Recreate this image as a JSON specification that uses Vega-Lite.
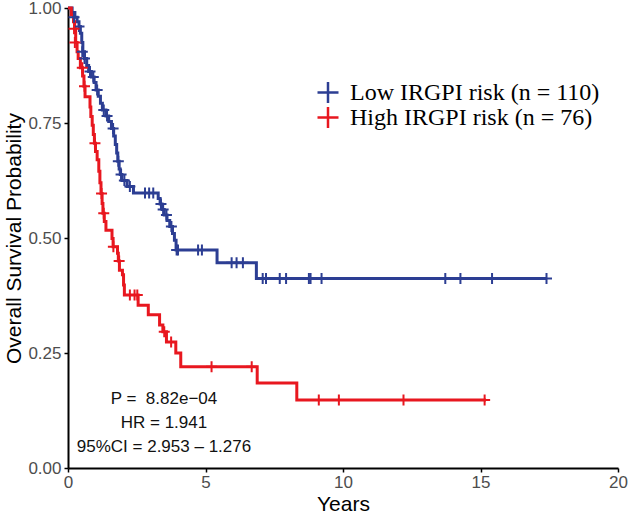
{
  "$schema": "https://vega.github.io/schema/vega-lite/v6.json",
  "width": 550,
  "height": 460,
  "autosize": {"type": "none"},
  "padding": {"left": 68, "top": 8, "right": 11, "bottom": 46},
  "background": "white",
  "config": {
    "view": {"stroke": null},
    "font": "Liberation Sans",
    "axis": {
      "grid": false,
      "domainColor": "#000000",
      "domainWidth": 2,
      "tickColor": "#000000",
      "tickWidth": 1.5,
      "tickSize": 4,
      "labelFlush": false,
      "labelOverlap": false,
      "labelColor": "#4d4d4d",
      "labelFont": "Liberation Sans",
      "labelFontSize": 17,
      "titleFont": "Liberation Sans",
      "titleFontSize": 21,
      "titleFontWeight": "normal",
      "titleColor": "#000000"
    }
  },
  "datasets": {
    "surv": [
      {"group": "Low IRGPI risk (n = 110)", "time": 0, "surv": 1.0},
      {"group": "Low IRGPI risk (n = 110)", "time": 0.15, "surv": 0.99},
      {"group": "Low IRGPI risk (n = 110)", "time": 0.25, "surv": 0.98},
      {"group": "Low IRGPI risk (n = 110)", "time": 0.33, "surv": 0.97},
      {"group": "Low IRGPI risk (n = 110)", "time": 0.4, "surv": 0.96},
      {"group": "Low IRGPI risk (n = 110)", "time": 0.45, "surv": 0.945},
      {"group": "Low IRGPI risk (n = 110)", "time": 0.5, "surv": 0.925},
      {"group": "Low IRGPI risk (n = 110)", "time": 0.54, "surv": 0.905},
      {"group": "Low IRGPI risk (n = 110)", "time": 0.6, "surv": 0.89},
      {"group": "Low IRGPI risk (n = 110)", "time": 0.68, "surv": 0.875},
      {"group": "Low IRGPI risk (n = 110)", "time": 0.75, "surv": 0.862},
      {"group": "Low IRGPI risk (n = 110)", "time": 0.85, "surv": 0.85},
      {"group": "Low IRGPI risk (n = 110)", "time": 0.95, "surv": 0.838},
      {"group": "Low IRGPI risk (n = 110)", "time": 1.02, "surv": 0.822},
      {"group": "Low IRGPI risk (n = 110)", "time": 1.1, "surv": 0.808},
      {"group": "Low IRGPI risk (n = 110)", "time": 1.18, "surv": 0.793},
      {"group": "Low IRGPI risk (n = 110)", "time": 1.25, "surv": 0.778},
      {"group": "Low IRGPI risk (n = 110)", "time": 1.38, "surv": 0.765},
      {"group": "Low IRGPI risk (n = 110)", "time": 1.48, "surv": 0.753},
      {"group": "Low IRGPI risk (n = 110)", "time": 1.58, "surv": 0.738},
      {"group": "Low IRGPI risk (n = 110)", "time": 1.66, "surv": 0.722},
      {"group": "Low IRGPI risk (n = 110)", "time": 1.72, "surv": 0.703},
      {"group": "Low IRGPI risk (n = 110)", "time": 1.77, "surv": 0.685},
      {"group": "Low IRGPI risk (n = 110)", "time": 1.81, "surv": 0.667},
      {"group": "Low IRGPI risk (n = 110)", "time": 1.86, "surv": 0.65},
      {"group": "Low IRGPI risk (n = 110)", "time": 1.9, "surv": 0.638},
      {"group": "Low IRGPI risk (n = 110)", "time": 1.96, "surv": 0.625},
      {"group": "Low IRGPI risk (n = 110)", "time": 2.15, "surv": 0.612},
      {"group": "Low IRGPI risk (n = 110)", "time": 2.38, "surv": 0.598},
      {"group": "Low IRGPI risk (n = 110)", "time": 3.28, "surv": 0.586},
      {"group": "Low IRGPI risk (n = 110)", "time": 3.35, "surv": 0.574},
      {"group": "Low IRGPI risk (n = 110)", "time": 3.42, "surv": 0.562},
      {"group": "Low IRGPI risk (n = 110)", "time": 3.5, "surv": 0.55},
      {"group": "Low IRGPI risk (n = 110)", "time": 3.6, "surv": 0.538},
      {"group": "Low IRGPI risk (n = 110)", "time": 3.7, "surv": 0.525},
      {"group": "Low IRGPI risk (n = 110)", "time": 3.8, "surv": 0.51},
      {"group": "Low IRGPI risk (n = 110)", "time": 3.87, "surv": 0.495},
      {"group": "Low IRGPI risk (n = 110)", "time": 3.93, "surv": 0.474},
      {"group": "Low IRGPI risk (n = 110)", "time": 5.42, "surv": 0.446},
      {"group": "Low IRGPI risk (n = 110)", "time": 6.85, "surv": 0.412},
      {"group": "Low IRGPI risk (n = 110)", "time": 17.42, "surv": 0.412},
      {"group": "High IRGPI risk (n = 76)", "time": 0, "surv": 1.0},
      {"group": "High IRGPI risk (n = 76)", "time": 0.12, "surv": 0.985},
      {"group": "High IRGPI risk (n = 76)", "time": 0.2, "surv": 0.97},
      {"group": "High IRGPI risk (n = 76)", "time": 0.24, "surv": 0.955},
      {"group": "High IRGPI risk (n = 76)", "time": 0.28, "surv": 0.925},
      {"group": "High IRGPI risk (n = 76)", "time": 0.33, "surv": 0.905},
      {"group": "High IRGPI risk (n = 76)", "time": 0.37, "surv": 0.89},
      {"group": "High IRGPI risk (n = 76)", "time": 0.45, "surv": 0.87},
      {"group": "High IRGPI risk (n = 76)", "time": 0.53, "surv": 0.852},
      {"group": "High IRGPI risk (n = 76)", "time": 0.58, "surv": 0.83},
      {"group": "High IRGPI risk (n = 76)", "time": 0.62, "surv": 0.807},
      {"group": "High IRGPI risk (n = 76)", "time": 0.8, "surv": 0.785},
      {"group": "High IRGPI risk (n = 76)", "time": 0.83, "surv": 0.764},
      {"group": "High IRGPI risk (n = 76)", "time": 0.88, "surv": 0.745},
      {"group": "High IRGPI risk (n = 76)", "time": 0.92, "surv": 0.725},
      {"group": "High IRGPI risk (n = 76)", "time": 0.96, "surv": 0.706},
      {"group": "High IRGPI risk (n = 76)", "time": 1.0, "surv": 0.688},
      {"group": "High IRGPI risk (n = 76)", "time": 1.06, "surv": 0.67},
      {"group": "High IRGPI risk (n = 76)", "time": 1.12, "surv": 0.645},
      {"group": "High IRGPI risk (n = 76)", "time": 1.16, "surv": 0.62},
      {"group": "High IRGPI risk (n = 76)", "time": 1.2, "surv": 0.597},
      {"group": "High IRGPI risk (n = 76)", "time": 1.24, "surv": 0.575},
      {"group": "High IRGPI risk (n = 76)", "time": 1.27, "surv": 0.554},
      {"group": "High IRGPI risk (n = 76)", "time": 1.32, "surv": 0.536},
      {"group": "High IRGPI risk (n = 76)", "time": 1.38, "surv": 0.517},
      {"group": "High IRGPI risk (n = 76)", "time": 1.6, "surv": 0.499},
      {"group": "High IRGPI risk (n = 76)", "time": 1.64, "surv": 0.481},
      {"group": "High IRGPI risk (n = 76)", "time": 1.8, "surv": 0.467},
      {"group": "High IRGPI risk (n = 76)", "time": 1.83, "surv": 0.45},
      {"group": "High IRGPI risk (n = 76)", "time": 1.87, "surv": 0.43},
      {"group": "High IRGPI risk (n = 76)", "time": 1.98, "surv": 0.42},
      {"group": "High IRGPI risk (n = 76)", "time": 2.02, "surv": 0.398},
      {"group": "High IRGPI risk (n = 76)", "time": 2.05, "surv": 0.376},
      {"group": "High IRGPI risk (n = 76)", "time": 2.55, "surv": 0.354},
      {"group": "High IRGPI risk (n = 76)", "time": 2.92, "surv": 0.333},
      {"group": "High IRGPI risk (n = 76)", "time": 3.33, "surv": 0.311},
      {"group": "High IRGPI risk (n = 76)", "time": 3.45, "surv": 0.296},
      {"group": "High IRGPI risk (n = 76)", "time": 3.58, "surv": 0.274},
      {"group": "High IRGPI risk (n = 76)", "time": 3.92, "surv": 0.25},
      {"group": "High IRGPI risk (n = 76)", "time": 4.1, "surv": 0.22},
      {"group": "High IRGPI risk (n = 76)", "time": 6.88, "surv": 0.185},
      {"group": "High IRGPI risk (n = 76)", "time": 8.32, "surv": 0.148},
      {"group": "High IRGPI risk (n = 76)", "time": 15.2, "surv": 0.148}
    ],
    "censor": [
      {"group": "Low IRGPI risk (n = 110)", "time": 0.22, "surv": 0.98},
      {"group": "Low IRGPI risk (n = 110)", "time": 0.4, "surv": 0.96},
      {"group": "Low IRGPI risk (n = 110)", "time": 0.52, "surv": 0.905},
      {"group": "Low IRGPI risk (n = 110)", "time": 0.6, "surv": 0.89},
      {"group": "Low IRGPI risk (n = 110)", "time": 0.8, "surv": 0.862},
      {"group": "Low IRGPI risk (n = 110)", "time": 0.92, "surv": 0.85},
      {"group": "Low IRGPI risk (n = 110)", "time": 1.06, "surv": 0.822},
      {"group": "Low IRGPI risk (n = 110)", "time": 1.3, "surv": 0.778},
      {"group": "Low IRGPI risk (n = 110)", "time": 1.42, "surv": 0.765},
      {"group": "Low IRGPI risk (n = 110)", "time": 1.64, "surv": 0.738},
      {"group": "Low IRGPI risk (n = 110)", "time": 1.83, "surv": 0.667},
      {"group": "Low IRGPI risk (n = 110)", "time": 1.93, "surv": 0.638},
      {"group": "Low IRGPI risk (n = 110)", "time": 2.05, "surv": 0.625},
      {"group": "Low IRGPI risk (n = 110)", "time": 2.25, "surv": 0.612},
      {"group": "Low IRGPI risk (n = 110)", "time": 2.8, "surv": 0.598},
      {"group": "Low IRGPI risk (n = 110)", "time": 2.95, "surv": 0.598},
      {"group": "Low IRGPI risk (n = 110)", "time": 3.1, "surv": 0.598},
      {"group": "Low IRGPI risk (n = 110)", "time": 3.38, "surv": 0.574},
      {"group": "Low IRGPI risk (n = 110)", "time": 3.46, "surv": 0.562},
      {"group": "Low IRGPI risk (n = 110)", "time": 3.58, "surv": 0.55},
      {"group": "Low IRGPI risk (n = 110)", "time": 3.76, "surv": 0.525},
      {"group": "Low IRGPI risk (n = 110)", "time": 3.95, "surv": 0.474},
      {"group": "Low IRGPI risk (n = 110)", "time": 4.0, "surv": 0.474},
      {"group": "Low IRGPI risk (n = 110)", "time": 4.73, "surv": 0.474},
      {"group": "Low IRGPI risk (n = 110)", "time": 4.87, "surv": 0.474},
      {"group": "Low IRGPI risk (n = 110)", "time": 5.95, "surv": 0.446},
      {"group": "Low IRGPI risk (n = 110)", "time": 6.13, "surv": 0.446},
      {"group": "Low IRGPI risk (n = 110)", "time": 6.36, "surv": 0.446},
      {"group": "Low IRGPI risk (n = 110)", "time": 7.08, "surv": 0.412},
      {"group": "Low IRGPI risk (n = 110)", "time": 7.2, "surv": 0.412},
      {"group": "Low IRGPI risk (n = 110)", "time": 7.7, "surv": 0.412},
      {"group": "Low IRGPI risk (n = 110)", "time": 7.93, "surv": 0.412},
      {"group": "Low IRGPI risk (n = 110)", "time": 8.76, "surv": 0.412},
      {"group": "Low IRGPI risk (n = 110)", "time": 8.82, "surv": 0.412},
      {"group": "Low IRGPI risk (n = 110)", "time": 9.22, "surv": 0.412},
      {"group": "Low IRGPI risk (n = 110)", "time": 13.72, "surv": 0.412},
      {"group": "Low IRGPI risk (n = 110)", "time": 14.27, "surv": 0.412},
      {"group": "Low IRGPI risk (n = 110)", "time": 15.42, "surv": 0.412},
      {"group": "Low IRGPI risk (n = 110)", "time": 17.4, "surv": 0.412},
      {"group": "High IRGPI risk (n = 76)", "time": 0.22, "surv": 0.955},
      {"group": "High IRGPI risk (n = 76)", "time": 0.25, "surv": 0.925},
      {"group": "High IRGPI risk (n = 76)", "time": 0.52, "surv": 0.87},
      {"group": "High IRGPI risk (n = 76)", "time": 0.6, "surv": 0.83},
      {"group": "High IRGPI risk (n = 76)", "time": 0.98, "surv": 0.706},
      {"group": "High IRGPI risk (n = 76)", "time": 1.22, "surv": 0.597},
      {"group": "High IRGPI risk (n = 76)", "time": 1.3, "surv": 0.554},
      {"group": "High IRGPI risk (n = 76)", "time": 1.65, "surv": 0.481},
      {"group": "High IRGPI risk (n = 76)", "time": 1.86, "surv": 0.45},
      {"group": "High IRGPI risk (n = 76)", "time": 2.25, "surv": 0.376},
      {"group": "High IRGPI risk (n = 76)", "time": 2.42, "surv": 0.376},
      {"group": "High IRGPI risk (n = 76)", "time": 2.52, "surv": 0.376},
      {"group": "High IRGPI risk (n = 76)", "time": 3.5, "surv": 0.296},
      {"group": "High IRGPI risk (n = 76)", "time": 3.75, "surv": 0.274},
      {"group": "High IRGPI risk (n = 76)", "time": 5.22, "surv": 0.22},
      {"group": "High IRGPI risk (n = 76)", "time": 6.68, "surv": 0.22},
      {"group": "High IRGPI risk (n = 76)", "time": 9.12, "surv": 0.148},
      {"group": "High IRGPI risk (n = 76)", "time": 9.85, "surv": 0.148},
      {"group": "High IRGPI risk (n = 76)", "time": 12.2, "surv": 0.148},
      {"group": "High IRGPI risk (n = 76)", "time": 15.15, "surv": 0.148}
    ],
    "stats": [{"label": "stats"}]
  },
  "layer": [
    {
      "data": {"name": "surv"},
      "mark": {"type": "line", "interpolate": "step-after", "strokeWidth": 3},
      "encoding": {
        "x": {"field": "time", "type": "quantitative", "scale": {"domain": [0, 20], "nice": false, "zero": true},
              "axis": {"values": [0, 5, 10, 15, 20], "title": "Years", "labelPadding": 2, "titlePadding": 3}},
        "y": {"field": "surv", "type": "quantitative", "scale": {"domain": [0, 1], "nice": false},
              "axis": {"values": [0, 0.25, 0.5, 0.75, 1], "format": ".2f", "title": "Overall Survival Probability", "labelPadding": 3, "titlePadding": 3}},
        "color": {
          "field": "group", "type": "nominal",
          "scale": {"domain": ["Low IRGPI risk (n = 110)", "High IRGPI risk (n = 76)"], "range": ["#2c3e93", "#e8171f"]},
          "legend": {
            "title": null,
            "orient": "none",
            "legendX": 248,
            "legendY": 72,
            "padding": 0,
            "symbolType": "M-1,0H1M0,-1V1",
            "symbolSize": 441,
            "symbolStrokeWidth": 2.5,
            "symbolOffset": 0,
            "labelFont": "Liberation Serif",
            "labelFontSize": 24,
            "labelColor": "#000000",
            "labelOffset": 10,
            "rowPadding": 0,
            "clipHeight": 25,
            "labelLimit": 400
          }
        },
        "detail": {"field": "group"}
      }
    },
    {
      "data": {"name": "censor"},
      "mark": {"type": "point", "shape": "M-1,0H1M0,-1V1", "filled": false, "size": 121, "strokeWidth": 2, "opacity": 1},
      "encoding": {
        "x": {"field": "time", "type": "quantitative"},
        "y": {"field": "surv", "type": "quantitative"},
        "color": {"field": "group", "type": "nominal", "legend": null}
      }
    },
    {
      "data": {"name": "stats"},
      "mark": {"type": "text", "font": "Liberation Sans", "fontSize": 17, "color": "#111111", "align": "center", "baseline": "middle"},
      "encoding": {
        "x": {"datum": 3.49, "type": "quantitative"},
        "y": {"datum": 0.15, "type": "quantitative"},
        "text": {"value": "P = \u00a08.82e\u221204"}
      }
    },
    {
      "data": {"name": "stats"},
      "mark": {"type": "text", "font": "Liberation Sans", "fontSize": 17, "color": "#111111", "align": "center", "baseline": "middle"},
      "encoding": {
        "x": {"datum": 3.49, "type": "quantitative"},
        "y": {"datum": 0.098, "type": "quantitative"},
        "text": {"value": "HR = 1.941"}
      }
    },
    {
      "data": {"name": "stats"},
      "mark": {"type": "text", "font": "Liberation Sans", "fontSize": 17, "color": "#111111", "align": "center", "baseline": "middle"},
      "encoding": {
        "x": {"datum": 3.49, "type": "quantitative"},
        "y": {"datum": 0.045, "type": "quantitative"},
        "text": {"value": "95%CI = 2.953 \u2013 1.276"}
      }
    }
  ]
}
